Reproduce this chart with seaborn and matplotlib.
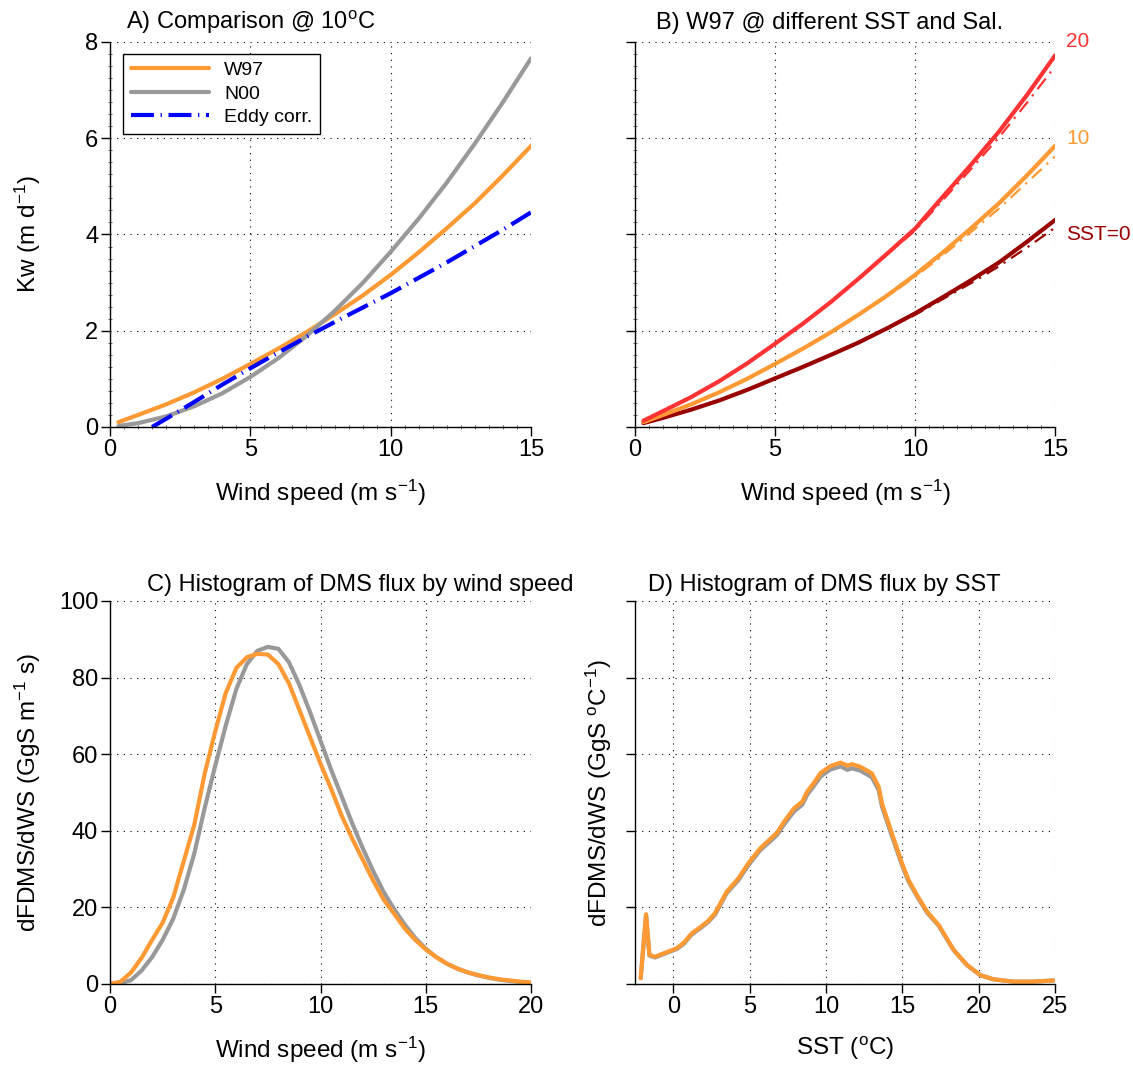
import numpy as np
import seaborn as sns
from matplotlib import pyplot as plt
from matplotlib.ticker import MultipleLocator

sns.set_theme(style="ticks")
plt.rcParams["font.family"] = ["Liberation Sans", "DejaVu Sans"]
plt.rcParams["mathtext.fontset"] = "custom"
plt.rcParams["mathtext.rm"] = "Liberation Sans"
plt.rcParams["mathtext.default"] = "regular"
plt.rcParams["text.color"] = "black"
plt.rcParams["axes.labelcolor"] = "black"
plt.rcParams["xtick.color"] = "black"
plt.rcParams["ytick.color"] = "black"

# panel A / B : transfer velocity vs wind speed
ws = [0.3, 1, 2, 3, 4, 5, 6, 7, 8, 9, 10, 11, 12, 13, 14, 15]
kw_w97 = [0.10, 0.25, 0.47, 0.72, 1.00, 1.31, 1.63, 1.97, 2.34, 2.73, 3.16, 3.63, 4.13, 4.65, 5.23, 5.84]
kw_n00 = [0.02, 0.08, 0.22, 0.43, 0.70, 1.04, 1.43, 1.89, 2.41, 2.99, 3.64, 4.33, 5.08, 5.89, 6.75, 7.66]
ws_eddy = [1.5, 2, 3, 4, 5, 6, 7, 8, 9, 10, 11, 12, 13, 14, 15]
kw_eddy = [0.0, 0.17, 0.52, 0.88, 1.22, 1.55, 1.87, 2.18, 2.48, 2.78, 3.10, 3.42, 3.76, 4.10, 4.46]

kw_sst20 = [0.13, 0.33, 0.62, 0.95, 1.32, 1.73, 2.15, 2.60, 3.09, 3.60, 4.12, 4.79, 5.45, 6.14, 6.90, 7.72]
kw_sst10 = kw_w97
kw_sst0 = [0.08, 0.19, 0.36, 0.55, 0.77, 1.01, 1.25, 1.50, 1.76, 2.05, 2.36, 2.70, 3.05, 3.42, 3.85, 4.30]
kw_sst20_sal = [0.13, 0.33, 0.62, 0.95, 1.32, 1.73, 2.15, 2.60, 3.08, 3.58, 4.08, 4.72, 5.36, 6.02, 6.74, 7.49]
kw_sst10_sal = [0.10, 0.25, 0.47, 0.72, 1.00, 1.31, 1.63, 1.97, 2.33, 2.71, 3.12, 3.57, 4.05, 4.54, 5.08, 5.62]
kw_sst0_sal = [0.08, 0.19, 0.36, 0.55, 0.77, 1.01, 1.25, 1.50, 1.75, 2.04, 2.33, 2.66, 2.99, 3.34, 3.73, 4.14]

# panel C : flux histogram by wind speed
ws_bins = np.arange(0, 20.5, 0.5)
flux_ws_w97 = [0, 0.6, 3.0, 6.8, 11.5, 16.0, 22.5, 32.0, 41.5, 55.0, 66.0, 76.0, 82.5, 85.3, 86.2, 86.0,
               83.5, 78.5, 71.5, 64.5, 57.5, 51.0, 44.0, 38.0, 32.5, 27.0, 22.0, 18.3, 14.5, 11.5, 9.0,
               7.0, 5.3, 4.0, 3.0, 2.3, 1.7, 1.2, 0.9, 0.6, 0.4]
flux_ws_n00 = [0, 0.2, 1.0, 3.5, 7.0, 11.5, 17.0, 24.5, 34.0, 46.0, 57.0, 67.5, 77.0, 83.5, 87.0, 88.0,
               87.5, 84.0, 78.0, 71.0, 63.5, 56.0, 49.0, 42.0, 35.5, 29.5, 24.0, 19.5, 15.5, 12.0, 9.2,
               7.0, 5.3, 4.0, 3.0, 2.2, 1.6, 1.1, 0.8, 0.5, 0.3]

# panel D : flux histogram by SST
sst = [-2.13, -1.78, -1.56, -1.19, -0.5, 0.23, 0.7, 1.21, 1.76, 2.3, 2.74, 3.5, 4.27, 4.92, 5.69, 6.23,
       6.8, 7.25, 7.9, 8.45, 8.77, 9.21, 9.65, 10.3, 10.96, 11.4, 11.7, 12.25, 13.0, 13.45, 13.67,
       14.32, 14.98, 15.41, 15.96, 16.62, 17.38, 18.36, 19.23, 20.1, 20.97, 22.3, 23.5, 24.9]
flux_sst_w97 = [1.5, 18.2, 7.6, 7.1, 8.2, 9.3, 10.8, 13.2, 14.8, 16.5, 18.5, 24.1, 27.6, 31.5, 35.4, 37.4,
                39.5, 42.3, 45.8, 47.6, 50.2, 52.5, 55.1, 56.9, 57.8, 57.0, 57.4, 56.7, 55.0, 51.5, 47.1,
                39.3, 31.5, 27.1, 23.2, 18.9, 15.4, 8.9, 5.0, 2.3, 1.2, 0.6, 0.6, 0.9]
flux_sst_n00 = [1.5, 18.0, 7.4, 6.9, 8.0, 9.1, 10.5, 12.9, 14.5, 16.2, 18.1, 23.7, 27.1, 31.0, 34.9, 36.8,
                38.9, 41.6, 45.0, 46.8, 49.4, 51.7, 54.2, 56.0, 56.8, 55.9, 56.3, 55.7, 54.0, 50.6, 46.3,
                38.6, 31.0, 26.7, 22.9, 18.6, 15.2, 8.8, 4.9, 2.3, 1.2, 0.6, 0.6, 0.9]

orange = "#FF9933"
gray = "#999999"
red = "#FF3333"
darkred = "#990000"

fig = plt.figure(figsize=(11.33, 10.68), dpi=100)
axA = fig.add_axes([0.0971, 0.6002, 0.3716, 0.3605])
axB = fig.add_axes([0.5605, 0.6002, 0.3707, 0.3605])
axC = fig.add_axes([0.0971, 0.0787, 0.3716, 0.3586])
axD = fig.add_axes([0.5605, 0.0787, 0.3707, 0.3586])

lw = 3
sns.lineplot(x=ws, y=kw_w97, ax=axA, color=orange, lw=lw, label="W97")
sns.lineplot(x=ws, y=kw_n00, ax=axA, color=gray, lw=lw, label="N00")
sns.lineplot(x=ws_eddy, y=kw_eddy, ax=axA, color="blue", lw=lw, label="Eddy corr.",
             dashes=False, linestyle=(0, (5.5, 1.6, 0.3, 1.6)))

for ydat, ysal, col in [(kw_sst0, kw_sst0_sal, darkred), (kw_sst10, kw_sst10_sal, orange),
                        (kw_sst20, kw_sst20_sal, red)]:
    sns.lineplot(x=ws, y=ysal, ax=axB, color=col, lw=1.6, linestyle=(0, (6, 3, 1, 3)))
    sns.lineplot(x=ws, y=ydat, ax=axB, color=col, lw=lw)
axB.text(15.4, 8.0, "20", color=red, fontsize=15, ha="left", va="center")
axB.text(15.4, 6.0, "10", color=orange, fontsize=15, ha="left", va="center")
axB.text(15.4, 4.0, "SST=0", color=darkred, fontsize=15, ha="left", va="center")

sns.lineplot(x=ws_bins, y=flux_ws_n00, ax=axC, color=gray, lw=lw)
sns.lineplot(x=ws_bins, y=flux_ws_w97, ax=axC, color=orange, lw=lw)

sns.lineplot(x=sst, y=flux_sst_n00, ax=axD, color=gray, lw=lw)
sns.lineplot(x=sst, y=flux_sst_w97, ax=axD, color=orange, lw=lw)

fs = 17
fl = 17.5
for ax in [axA, axB]:
    ax.set_xlim(0, 15)
    ax.set_ylim(0, 8)
    ax.set_xticks([0, 5, 10, 15])
    ax.set_yticks([0, 2, 4, 6, 8])
    ax.xaxis.set_minor_locator(MultipleLocator(0.5))
    ax.yaxis.set_minor_locator(MultipleLocator(0.25))
    ax.set_xlabel("Wind speed (m s$^{-1}$)", fontsize=fl, labelpad=12)
axC.set_xlim(0, 20)
axC.set_ylim(0, 100)
axC.set_xticks([0, 5, 10, 15, 20])
axC.set_yticks([0, 20, 40, 60, 80, 100])
axC.set_xlabel("Wind speed (m s$^{-1}$)", fontsize=fl, labelpad=12)
axD.set_xlim(-2.5, 25)
axD.set_ylim(0, 100)
axD.set_xticks([0, 5, 10, 15, 20, 25])
axD.set_yticks([0, 20, 40, 60, 80, 100])
axD.set_xlabel("SST ($^{o}$C)", fontsize=fl, labelpad=12)

axA.set_ylabel("Kw (m d$^{-1}$)", fontsize=fl)
axC.set_ylabel("dFDMS/dWS (GgS m$^{-1}$ s)", fontsize=fl)
axD.set_ylabel("dFDMS/dWS (GgS $^{o}$C$^{-1}$)", fontsize=fl)
axA.yaxis.set_label_coords(-0.16, 0.5)
axC.yaxis.set_label_coords(-0.16, 0.5)
axD.yaxis.set_label_coords(-0.05, 0.5)

axA.set_title("A) Comparison @ 10$^{o}$C", fontsize=fs, x=0.333, pad=9)
axB.set_title("B) W97 @ different SST and Sal.", fontsize=fs, x=0.464, pad=9)
axC.set_title("C) Histogram of DMS flux by wind speed", fontsize=fs, x=0.594, pad=7)
axD.set_title("D) Histogram of DMS flux by SST", fontsize=fs, x=0.45, pad=7)

for ax in [axA, axB, axC, axD]:
    sns.despine(ax=ax)
    ax.spines["left"].set_color("black")
    ax.spines["bottom"].set_color("black")
    ax.spines["left"].set_linewidth(1)
    ax.spines["bottom"].set_linewidth(1)
    ax.grid(True, which="major", color="black", lw=0.8, linestyle=(0, (1, 5)))
    ax.tick_params(which="major", direction="out", length=6.5, width=1, labelsize=fs, pad=2, color="black")
    ax.tick_params(which="minor", direction="inout", length=3, width=0.6, color="#444444")
for ax in [axB, axD]:
    ax.tick_params(labelleft=False)

leg = axA.legend(loc="upper left", bbox_to_anchor=(0.031, 0.969), borderaxespad=0, fontsize=14,
                 handlelength=4, handletextpad=0.8, labelspacing=0.3, borderpad=0.4,
                 fancybox=False, framealpha=1, edgecolor="black")
leg.get_frame().set_linewidth(1)

fig.savefig("out.png", dpi=100)
